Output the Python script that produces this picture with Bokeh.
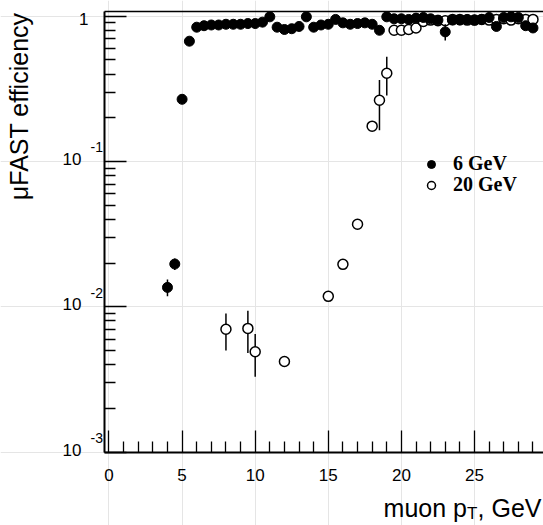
import math
from bokeh.plotting import figure
from bokeh.models import (ColumnDataSource, FixedTicker, LinearAxis, LogAxis, Label,
                          Legend, LegendItem, Range1d)
from bokeh.embed import file_html
from bokeh.resources import INLINE

# ---------------- data ----------------
x_6 = [4.0, 4.5, 5.0, 5.5, 6.0, 6.5, 7.0, 7.5, 8.0, 8.5, 9.0, 9.5, 10.0, 10.5,
       11.0, 11.5, 12.0, 12.5, 13.0, 13.5, 14.0, 14.5, 15.0, 15.5, 16.0, 16.5,
       17.0, 17.5, 18.0, 18.5, 19.0, 19.5, 20.0, 20.5, 21.0, 21.5, 22.0, 22.5,
       23.0, 23.5, 24.0, 24.5, 25.0, 25.5, 26.0, 26.5, 27.0, 27.5, 28.0, 28.5,
       29.0]
eff_6 = [0.0136, 0.0197, 0.268, 0.673, 0.84, 0.86, 0.87, 0.87, 0.88, 0.88, 0.88,
         0.89, 0.89, 0.91, 0.99, 0.84, 0.81, 0.82, 0.85, 0.99, 0.84, 0.87, 0.88,
         0.95, 0.90, 0.88, 0.89, 0.90, 0.88, 0.80, 0.99, 0.96, 0.96, 0.95, 0.97,
         0.98, 0.96, 0.94, 0.78, 0.94, 0.94, 0.95, 0.94, 0.95, 0.98, 0.85, 0.98,
         0.99, 0.98, 0.86, 0.83]
err_6 = [0.0018, 0.0018, 0.01, 0.02, 0.02, 0.02, 0.02, 0.02, 0.02, 0.02, 0.02,
         0.02, 0.02, 0.02, 0.02, 0.02, 0.02, 0.02, 0.02, 0.02, 0.02, 0.02, 0.02,
         0.02, 0.02, 0.02, 0.02, 0.02, 0.02, 0.02, 0.02, 0.02, 0.02, 0.02, 0.02,
         0.02, 0.02, 0.02, 0.10, 0.02, 0.02, 0.02, 0.02, 0.02, 0.02, 0.02, 0.02,
         0.02, 0.02, 0.02, 0.02]

x_20 = [8.0, 9.5, 10.0, 12.0, 15.0, 16.0, 17.0, 18.0, 18.5, 19.0, 19.5, 20.0,
        20.5, 21.0, 21.5, 22.0, 22.5, 23.0, 23.5, 24.0, 24.5, 25.0, 25.5, 26.0,
        26.5, 27.0, 27.5, 28.0, 28.5, 29.0]
eff_20 = [0.0070, 0.0071, 0.0049, 0.0042, 0.0118, 0.0196, 0.037, 0.175, 0.264,
          0.405, 0.80, 0.80, 0.81, 0.83, 0.92, 0.94, 0.93, 0.93, 0.95, 0.95,
          0.94, 0.94, 0.95, 0.94, 0.95, 0.96, 0.94, 0.96, 0.95, 0.95]
err_20 = [0.0020, 0.0023, 0.0016, 0.0003, 0.0008, 0.0012, 0.002, 0.01, 0.10,
          0.12, 0.03, 0.03, 0.03, 0.03, 0.02, 0.02, 0.02, 0.02, 0.02, 0.02,
          0.02, 0.02, 0.02, 0.02, 0.02, 0.02, 0.02, 0.02, 0.02, 0.02]

labels_series = ["6 GeV", "20 GeV"]

x_major = [0, 5, 10, 15, 20, 25]
x_minor = [i for i in range(0, 30) if i % 5 != 0]
y_major = [0.001, 0.01, 0.1, 1.0]
y_minor = [m * 10.0 ** e for e in (-3, -2, -1) for m in range(2, 10)]
y_major_text = ["10", "10", "10", "1"]
y_sup_text = ["-3", "-2", "-1", ""]

x_title = ["muon p", "T", ", GeV"]
y_title = "\u03bcFAST efficiency"

# visible axis box (ROOT frame) and the full canvas ranges around it
AX_X0, AX_X1 = -0.274, 29.72
AX_Y0, AX_Y1 = 0.001, 1.077
CAN_X = (-7.421, 29.72)
CAN_Y = (10 ** -3.5052, 10 ** 0.10805)
FONT = "Liberation Sans"

src6 = ColumnDataSource(dict(x=x_6, y=eff_6,
                             lo=[v - e for v, e in zip(eff_6, err_6)],
                             hi=[v + e for v, e in zip(eff_6, err_6)]))
src20 = ColumnDataSource(dict(x=x_20, y=eff_20,
                              lo=[v - e for v, e in zip(eff_20, err_20)],
                              hi=[v + e for v, e in zip(eff_20, err_20)]))

p = figure(width=543, height=525, x_range=Range1d(*CAN_X), y_range=Range1d(*CAN_Y),
           y_axis_type="log", x_axis_location=None, y_axis_location=None,
           output_backend="svg", toolbar_location=None,
           min_border_left=0, min_border_right=0, min_border_top=0,
           min_border_bottom=0)
p.outline_line_color = None
p.background_fill_color = "white"
p.border_fill_color = "white"

# error bars then markers (open series beneath filled series)
p.segment(x0="x", y0="lo", x1="x", y1="hi", source=src20, line_color="black", line_width=1.5)
r20 = p.scatter("x", "y", source=src20, marker="circle", size=10,
                fill_color="white", line_color="black", line_width=1.5)
p.segment(x0="x", y0="lo", x1="x", y1="hi", source=src6, line_color="black", line_width=1.5)
r6 = p.scatter("x", "y", source=src6, marker="circle", size=10,
               fill_color="black", line_color="black", line_width=1)

# axes drawn at fixed locations (ROOT-like frame, ticks pointing inwards)
xa = LinearAxis(fixed_location=AX_Y0, bounds=(AX_X0, AX_X1),
                ticker=FixedTicker(ticks=x_major, minor_ticks=x_minor))
ya = LogAxis(fixed_location=AX_X0, bounds=(AX_Y0, AX_Y1),
             ticker=FixedTicker(ticks=y_major, minor_ticks=y_minor))
for ax in (xa, ya):
    ax.axis_line_width = 2
    ax.axis_line_color = "black"
    ax.major_tick_in = 22
    ax.major_tick_out = 0
    ax.minor_tick_in = 11
    ax.minor_tick_out = 0
    ax.major_tick_line_width = 1.3
    ax.minor_tick_line_width = 1.3
    ax.major_tick_line_color = "black"
    ax.minor_tick_line_color = "black"
xa.major_label_text_font = FONT
xa.major_label_text_font_size = "17px"
xa.major_label_text_color = "black"
xa.major_label_standoff = 17
ya.major_label_text_color = None
p.add_layout(xa, "below")
p.add_layout(ya, "left")

top = LinearAxis(fixed_location=AX_Y1, bounds=(AX_X0, AX_X1),
                 ticker=FixedTicker(ticks=[]), axis_line_width=1.5,
                 axis_line_color="black", major_label_text_color=None,
                 major_tick_in=0, major_tick_out=0, minor_tick_in=0, minor_tick_out=0)
p.add_layout(top, "above")

# y tick labels, ROOT style 10^-n
for v, t, s in zip(y_major, y_major_text, y_sup_text):
    if s:
        p.add_layout(Label(x=AX_X0, y=v, x_offset=-23.5, y_offset=2.5, text=t,
                           text_align="right", text_baseline="middle",
                           text_font=FONT, text_font_size="17px", text_color="black"))
        p.add_layout(Label(x=AX_X0, y=v, x_offset=-14.5, y_offset=14, text=s,
                           text_align="left", text_baseline="middle",
                           text_font=FONT, text_font_size="14px", text_color="black"))
    else:
        p.add_layout(Label(x=AX_X0, y=v, x_offset=-16.5, y_offset=-3, text=t,
                           text_align="right", text_baseline="middle",
                           text_font=FONT, text_font_size="17px", text_color="black"))

# axis titles
p.add_layout(Label(x=AX_X0, y=AX_Y1, x_offset=-85.5, y_offset=-1, text=y_title,
                   angle=math.pi / 2, text_align="right", text_baseline="alphabetic",
                   text_font=FONT, text_font_size="25px", text_color="black"))
p.add_layout(Label(x=AX_X1, y=AX_Y0, x_offset=-2, y_offset=-56, text=x_title[2],
                   text_align="right", text_baseline="alphabetic",
                   text_font=FONT, text_font_size="25px", text_color="black"))
p.add_layout(Label(x=AX_X1, y=AX_Y0, x_offset=-66, y_offset=-61, text=x_title[1],
                   text_align="right", text_baseline="alphabetic",
                   text_font=FONT, text_font_size="17px", text_color="black"))
p.add_layout(Label(x=AX_X1, y=AX_Y0, x_offset=-76.5, y_offset=-56, text=x_title[0],
                   text_align="right", text_baseline="alphabetic",
                   text_font=FONT, text_font_size="25px", text_color="black"))

legend_style = dict(orientation="vertical", border_line_color=None,
                    background_fill_alpha=0, label_text_font="Liberation Serif",
                    label_text_font_style="bold", label_text_font_size="20px",
                    label_text_color="black", glyph_width=20, glyph_height=20,
                    label_height=20, spacing=0, padding=0, margin=0,
                    label_standoff=12)
leg_a = Legend(items=[LegendItem(label=labels_series[0], renderers=[r6])],
               location=(421, 350), **legend_style)
leg_b = Legend(items=[LegendItem(label=labels_series[1], renderers=[r20])],
               location=(421, 329), **legend_style)
p.add_layout(leg_a)
p.add_layout(leg_b)

open("out.html", "w").write(file_html(p, INLINE))
